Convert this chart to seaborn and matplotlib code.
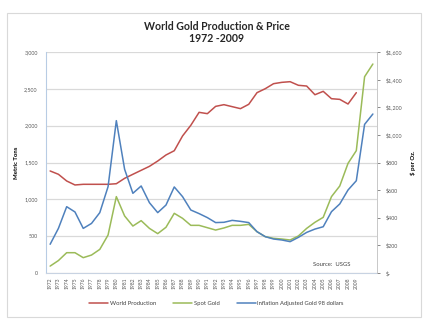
import numpy as np
import pandas as pd
import matplotlib
matplotlib.use("Agg")
import matplotlib.pyplot as plt
from matplotlib.patches import Rectangle
from matplotlib.lines import Line2D
from matplotlib.ticker import FuncFormatter
import seaborn as sns

# ---- data -------------------------------------------------------------
years = list(range(1972, 2012))
production_years = list(range(1972, 2010))
tick_years = list(range(1972, 2010))

world_production = [1385, 1340, 1249, 1195, 1204, 1204, 1204, 1204,
                    1212, 1285, 1340, 1394, 1448, 1520, 1602, 1660, 1860, 2005,
                    2181, 2163, 2262, 2285, 2258, 2231, 2290, 2448, 2502, 2570,
                    2588, 2597, 2548, 2538, 2420, 2466, 2366, 2357, 2294, 2448]

spot_gold = [50, 90, 147, 147, 111, 130, 171, 275,
             553, 413, 340, 379, 323, 285, 331, 432, 396, 345,
             345, 328, 311, 326, 345, 345, 352, 299, 263, 251,
             246, 239, 268, 323, 367, 403, 553, 630, 794, 886,
             1421, 1513]

gold_98_dollars = [208, 323, 480, 442, 323, 359, 437, 625,
                   1103, 751, 577, 630, 509, 437, 492, 623, 553, 456,
                   430, 401, 365, 367, 381, 374, 365, 299, 263, 246,
                   239, 227, 258, 294, 318, 335, 444, 500, 601, 668,
                   1076, 1151]

series_names = ["World Production", "Spot Gold", "Inflation Adjusted Gold 98 dollars"]
series_colors = ["#C0504D", "#9BBB59", "#4F81BD"]

# ---- styling ----------------------------------------------------------
sns.set_theme(style="white")
plt.rcParams["font.family"] = ["Lato", "DejaVu Sans"]

W, H = 433, 321
fig = plt.figure(figsize=(W / 100, H / 100), dpi=100)
fig.patch.set_facecolor("white")

# outer chart frame
fig.add_artist(Rectangle((7 / W, 1 - 317 / H), (421 - 7) / W, (317 - 13) / H,
                         transform=fig.transFigure, fill=False,
                         edgecolor="#d9d9d9", linewidth=0.8))

left, right, top, bottom = 46, 377, 52, 273
ax = fig.add_axes([left / W, 1 - bottom / H, (right - left) / W, (bottom - top) / H])
ax2 = ax.twinx()

prod_df = pd.DataFrame({"year": production_years, "tons": world_production})
price_df = pd.DataFrame({"year": years, "spot": spot_gold, "adj": gold_98_dollars})

lw = 1.1
sns.lineplot(data=prod_df, x="year", y="tons", ax=ax, color=series_colors[0], linewidth=lw)
sns.lineplot(data=price_df, x="year", y="spot", ax=ax2, color=series_colors[1], linewidth=lw)
sns.lineplot(data=price_df, x="year", y="adj", ax=ax2, color=series_colors[2], linewidth=lw)

# left axis: metric tons
ax.set_ylim(0, 3000)
ax.set_yticks(np.arange(0, 3001, 500))
ax.yaxis.set_major_formatter(FuncFormatter(lambda v, p: f"{int(v):,}"))
ax.yaxis.grid(True, color="#d9d9d9", linewidth=0.9)
ax.set_axisbelow(True)

# right axis: dollars per ounce
ax2.set_ylim(0, 1600)
ax2.set_yticks(np.arange(0, 1601, 200))
ax2.yaxis.set_major_formatter(FuncFormatter(lambda v, p: "$-" if v == 0 else f"${int(v):,}"))

ax.set_xlim(1971.5, 2011.5)
ax.set_xticks(tick_years)
ax.set_xticklabels([str(y) for y in tick_years], rotation=90)

tick_color = "#595959"
ax.tick_params(axis="x", labelsize=3.6, colors=tick_color, length=0, pad=3)
ax.tick_params(axis="y", labelsize=3.9, colors=tick_color, length=0, pad=6)
ax2.tick_params(axis="y", labelsize=3.9, colors=tick_color, length=2.5, width=0.5,
                direction="out", pad=4)
for t in ax.get_xticklabels():
    t.set_color(tick_color)

for a in (ax, ax2):
    for s in a.spines.values():
        s.set_visible(False)
ax.spines["left"].set_visible(True)
ax.spines["left"].set_color("#b8cce4")
ax.spines["left"].set_linewidth(0.8)
ax.spines["bottom"].set_visible(True)
ax.spines["bottom"].set_color("#c8d3e2")
ax.spines["bottom"].set_linewidth(0.8)
ax2.spines["right"].set_visible(True)
ax2.spines["right"].set_color("#bfbfbf")
ax2.spines["right"].set_linewidth(0.6)

ax.set_xlabel("")
ax.set_ylabel("Metric Tons", fontsize=4.3, fontweight="bold", color="black")
ax.yaxis.set_label_coords((19 - left) / (right - left), 0.5)
ax2.set_ylabel("$ per Oz.", fontsize=4.3, fontweight="bold", color="black", rotation=90)
ax2.yaxis.set_label_coords((410 - left) / (right - left), 0.5)

# title
fig.text(0.5, 1 - 26 / H, "World Gold Production & Price", ha="center", va="center",
         fontsize=7.6, fontweight="bold", color="#262626")
fig.text(0.5, 1 - 39 / H, "1972 -2009", ha="center", va="center",
         fontsize=7.6, fontweight="bold", color="#262626")

# source note inside the plot area
ax.text(0.92, 0.027, "Source:  USGS", transform=ax.transAxes, ha="right", va="bottom",
        fontsize=4.2, color="#404040")

# legend below the axis labels
handles = [Line2D([0], [0], color=c, linewidth=lw) for c in series_colors]
fig.legend(handles, series_names, loc="center", bbox_to_anchor=(0.5, 1 - 303 / H),
           ncol=3, frameon=False, fontsize=4.2, handlelength=3.2, handletextpad=0.3,
           columnspacing=3.0, labelcolor="#404040")

fig.savefig("out.png", dpi=100)
